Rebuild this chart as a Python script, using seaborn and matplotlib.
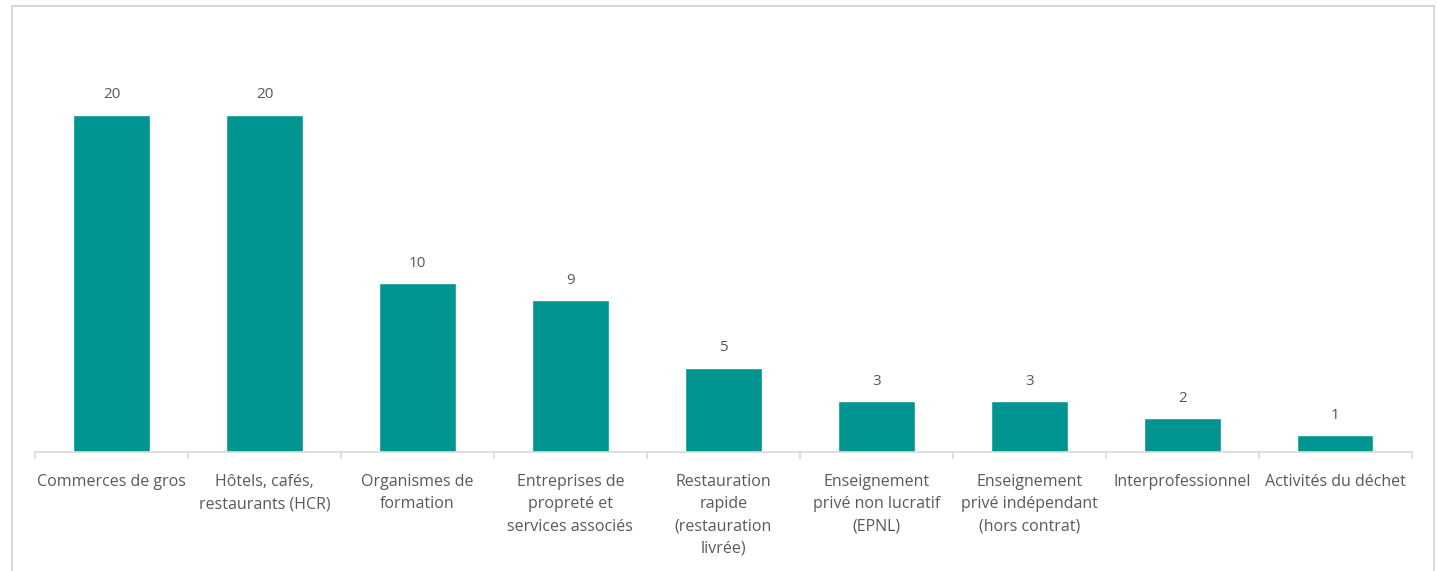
import numpy as np
import pandas as pd
import matplotlib
matplotlib.use("Agg")
import matplotlib.pyplot as plt
import seaborn as sns
from matplotlib.patches import Rectangle

categories = [
    "Commerces de gros",
    "Hôtels, cafés,\nrestaurants (HCR)",
    "Organismes de\nformation",
    "Entreprises de\npropreté et\nservices associés",
    "Restauration\nrapide\n(restauration\nlivrée)",
    "Enseignement\nprivé non lucratif\n(EPNL)",
    "Enseignement\nprivé indépendant\n(hors contrat)",
    "Interprofessionnel",
    "Activités du déchet",
]
values = [20, 20, 10, 9, 5, 3, 3, 2, 1]

def main():
    df = pd.DataFrame({"secteur": categories, "nombre": values})

    sns.set_theme(style="white")
    plt.rcParams["font.family"] = ["Open Sans", "DejaVu Sans"]

    fig = plt.figure(figsize=(14.37, 5.71), dpi=100)
    ax = fig.add_axes([0.0244, 0.2084, 0.958, 0.6497])

    sns.barplot(data=df, x="secteur", y="nombre", color="#009590",
                saturation=1, width=0.5, ax=ax)

    txt = "#595959"
    for i, v in enumerate(values):
        ax.annotate(str(v), (i, v), xytext=(0, 14.5), textcoords="offset points",
                    ha="center", va="center", fontsize=11, color=txt)

    ax.set_xlim(-0.5, len(categories) - 0.5)
    ax.set_ylim(0, 22)
    ax.set_xlabel("")
    ax.set_ylabel("")
    ax.set_yticks([])
    for s in ["top", "right", "left"]:
        ax.spines[s].set_visible(False)
    ax.spines["bottom"].set_color("#d9d9d9")
    ax.spines["bottom"].set_linewidth(1.2)

    ax.set_xticks(range(len(categories)))
    ax.set_xticklabels(categories, fontsize=11.5, color=txt, linespacing=1.52, va="top")
    ax.set_xticks(np.arange(-0.5, len(categories)), minor=True)
    ax.tick_params(axis="x", which="major", length=0, pad=16)
    ax.tick_params(axis="x", which="minor", length=5, color="#d9d9d9", width=1.2,
                   bottom=True, direction="out")

    # cadre gris autour du graphique
    fig.patches.append(Rectangle((12 / 1437, -0.05), (1434 - 12) / 1437, 1.05 - 6 / 571,
                                 transform=fig.transFigure, fill=False,
                                 edgecolor="#d0d0d0", linewidth=1.2))

    fig.savefig("out.png", dpi=100)

if __name__ == "__main__":
    main()
